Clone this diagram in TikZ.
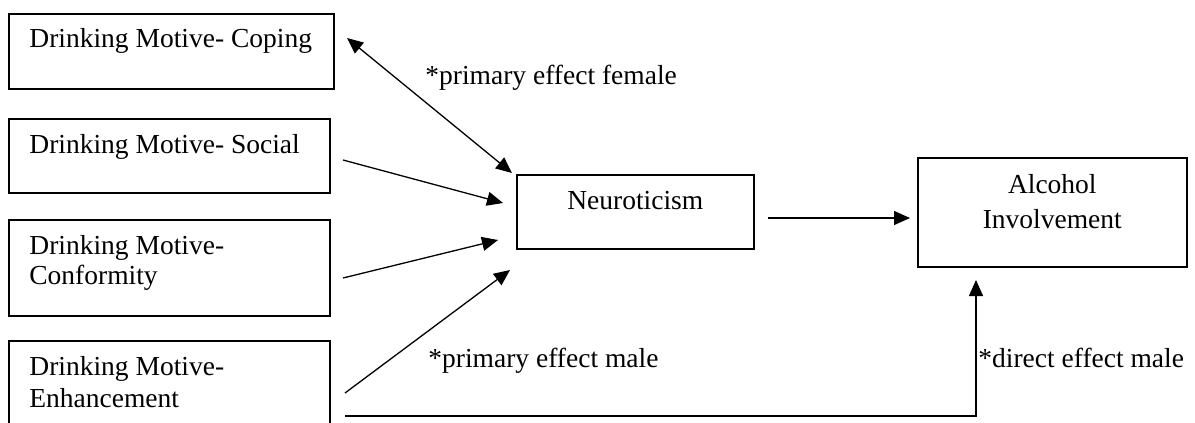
\documentclass[tikz,border=0pt]{standalone}
\usepackage{fontspec}
\setmainfont{Liberation Serif}
\usetikzlibrary{arrows.meta,positioning}

\tikzset{
  box/.style={draw, line width=0.8pt, inner sep=0pt, anchor=north west},
  txt/.style={inner sep=0pt, font=\fontsize{13.75}{15.5}\selectfont},
  conn/.style={line width=0.65pt, -{Triangle[length=8pt,width=7pt]}},
}

\begin{document}
\begin{tikzpicture}[x=0.5pt, y=-0.5pt]
  \clip (0,0) rectangle (1195,423);

  % boxes
  \node[box, minimum width=162.5pt, minimum height=37.5pt] (cop) at (8,13) {};
  \node[box, minimum width=160.5pt, minimum height=37pt] (soc) at (8,118) {};
  \node[box, minimum width=160.5pt, minimum height=48pt] (con) at (8,219) {};
  \node[box, minimum width=160.5pt, minimum height=60pt] (enh) at (8,340) {};
  \node[box, minimum width=118.5pt, minimum height=37pt] (neu) at (516,174) {};
  \node[box, minimum width=134.5pt, minimum height=54.5pt] (alc) at (917,157) {};

  % box texts (base = last line)
  \node[txt, anchor=base west] (tcop) at ([xshift=10.5pt, yshift=-17pt]cop.north west) {Drinking Motive- Coping};
  \node[txt, anchor=base west] (tsoc) at ([xshift=10.5pt, yshift=-17.5pt]soc.north west) {Drinking Motive- Social};
  \node[txt, anchor=base west, align=left, font=\fontsize{13.75}{15}\selectfont] (tcon) at ([xshift=10.5pt, yshift=-32.5pt]con.north west) {Drinking Motive-\\Conformity};
  \node[txt, anchor=base west, align=left, font=\fontsize{13.75}{16}\selectfont] (tenh) at ([xshift=10.5pt, yshift=-33.5pt]enh.north west) {Drinking Motive-\\Enhancement};
  \node[txt, anchor=base] (tneu) at ([yshift=-17.5pt]neu.north) {Neuroticism};
  \node[txt, anchor=base, align=center, font=\fontsize{13.75}{17.5}\selectfont] (talc) at ([yshift=-35.5pt]alc.north) {Alcohol\\Involvement};

  % effect labels
  \node[txt, anchor=base west] (lfem) at (425,84) {*primary effect female};
  \node[txt, anchor=base west] (lmal) at (428,367) {*primary effect male};
  \node[txt, anchor=base west] (ldir) at (978,367) {*direct effect male};

  % arrow ends
  \coordinate (copa) at (347,38);  \coordinate (copb) at (512,173);
  \coordinate (soca) at (343,160); \coordinate (socb) at (503,203);
  \coordinate (cona) at (343,278); \coordinate (conb) at (498,240);
  \coordinate (enha) at (345,393); \coordinate (enhb) at (510,270);
  \coordinate (neua) at (768,218); \coordinate (alcb) at (910,218);
  \coordinate (dira) at (345,416); \coordinate (dirb) at (976,280);

  \draw[conn, {Triangle[length=8pt,width=7pt]}-{Triangle[length=8pt,width=7pt]}] (copa) -- (copb);
  \draw[conn] (soca) -- (socb);
  \draw[conn] (cona) -- (conb);
  \draw[conn] (enha) -- (enhb);
  \draw[conn] (neua) -- (alcb);
  \draw[conn] (dira) -| (dirb);
\end{tikzpicture}
\end{document}
